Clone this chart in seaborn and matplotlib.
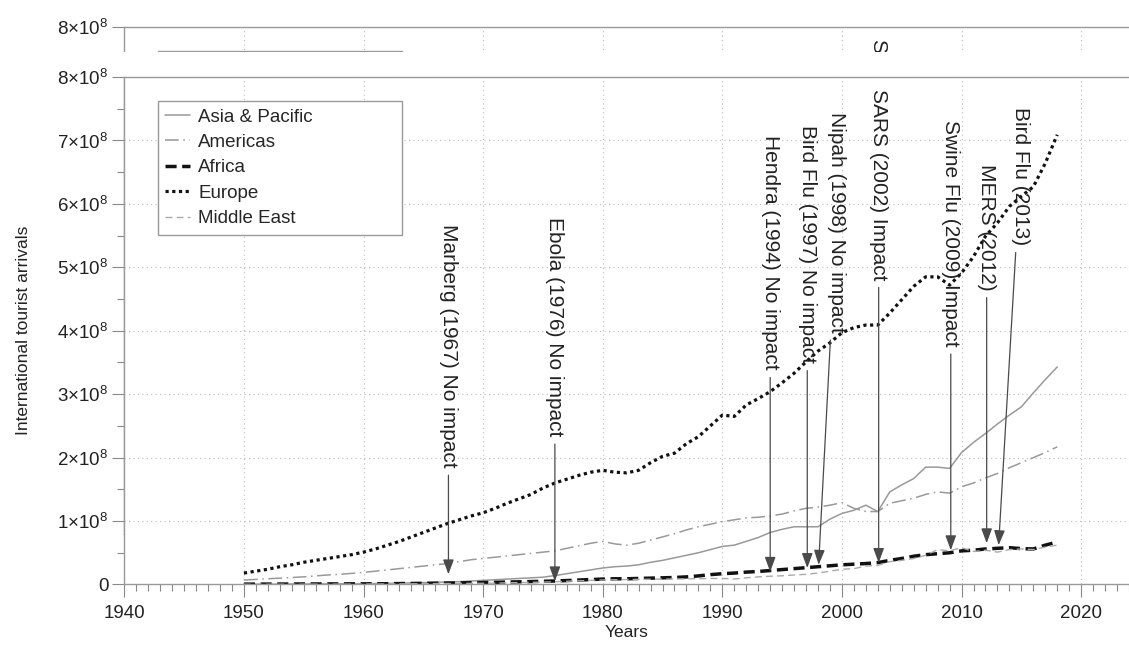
import seaborn as sns
import matplotlib.pyplot as plt
from matplotlib.patches import Rectangle
from matplotlib.ticker import MultipleLocator, FuncFormatter, NullLocator

years = list(range(1950, 2019))

# international tourist arrivals, millions
asia_pacific = [0.3, 0.3, 0.4, 0.5, 0.6, 0.7, 0.8, 0.9, 1.0, 1.1,
                1.2, 1.4, 1.7, 2.0, 2.5, 3.0, 3.5, 4.0, 4.5, 5.5,
                6.5, 7.5, 8.5, 9.5, 10.5, 11.5, 14, 17, 20, 23,
                26, 28, 29, 31, 35, 38, 42, 46, 50, 55,
                60, 62, 68, 74, 82, 87, 91, 91, 91, 103,
                112, 117, 125, 115, 146, 157, 167, 185, 185, 183,
                208, 224, 238, 253, 267, 280, 302, 323, 343]
americas = [7, 8, 9, 10, 11, 12, 13.5, 15, 16, 17.5,
            19, 21, 23, 25, 27, 29, 31, 33, 36, 39,
            41, 43, 45, 47, 49, 51, 53, 57, 61, 65,
            68, 64, 62, 65, 70, 75, 80, 86, 91, 95,
            99, 102, 105, 106, 108, 111, 116, 120, 122, 125,
            129, 120, 115, 115, 128, 132, 136, 142, 146, 144,
            154, 160, 168, 175, 184, 192, 200, 208, 217]
africa = [0.5, 0.6, 0.6, 0.7, 0.7, 0.8, 0.8, 0.9, 0.9, 1.0,
          1.0, 1.1, 1.2, 1.4, 1.6, 1.8, 2.0, 2.2, 2.5, 2.8,
          3.0, 3.4, 3.8, 4.2, 4.6, 5.0, 5.5, 6.2, 7.0, 7.8,
          8.5, 9.0, 9.0, 9.5, 10.0, 10.5, 11, 12, 13.5, 15.5,
          17, 18, 19.5, 20.5, 22, 23.5, 25, 26.5, 28, 29.5,
          31, 32, 33, 34.5, 38, 41, 44.5, 47, 48.5, 50,
          53, 54, 56, 57, 58, 56.5, 56, 62, 67]
europe = [18, 21, 24, 28, 31, 35, 38, 41, 44, 47,
          51, 56, 62, 68, 75, 82, 89, 96, 102, 108,
          113, 120, 128, 135, 142, 152, 160, 166, 172, 177,
          180, 177, 176, 180, 192, 202, 207, 222, 233, 250,
          267, 265, 283, 293, 304, 318, 333, 351, 368, 381,
          397, 405, 409, 409, 428, 449, 470, 485, 485, 472,
          491, 517, 549, 570, 596, 612, 627, 664, 709]
middle_east = [0.2, 0.22, 0.25, 0.28, 0.31, 0.35, 0.39, 0.43, 0.48, 0.54,
               0.6, 0.7, 0.8, 0.95, 1.1, 1.25, 1.4, 1.5, 1.6, 1.75,
               1.9, 2.2, 2.6, 3.0, 3.3, 3.7, 4.3, 5.0, 5.8, 6.5,
               7.1, 7.5, 7.8, 8.0, 8.3, 8.5, 8.7, 8.9, 9.2, 9.4,
               9.6, 8.5, 10.5, 12, 13, 13.7, 15, 16, 18, 21,
               24, 25, 29, 30, 36, 38, 41, 46, 55, 53,
               58, 52, 54, 51, 55, 56, 55, 59, 62]

regions = ["Asia & Pacific", "Americas", "Africa", "Europe", "Middle East"]
series = [asia_pacific, americas, africa, europe, middle_east]
styles = [
    dict(color="#999999", lw=1.1, linestyle="-"),
    dict(color="#999999", lw=1.1, linestyle=(0, (9, 3, 1, 3))),
    dict(color="#111111", lw=2.5, linestyle=(0, (3.2, 1.6))),
    dict(color="#111111", lw=2.3, linestyle=(0, (1, 1.1))),
    dict(color="#aaaaaa", lw=1.0, linestyle=(0, (5, 3))),
]

# outbreaks: label, year pointed at, value pointed at (millions)
outbreaks = ["Marberg (1967) No impact", "Ebola (1976) No impact",
             "Hendra (1994) No impact", "Bird Flu (1997) No impact",
             "Nipah (1998) No impact", "SARS (2002) Impact",
             "Swine Flu (2009) Impact", "MERS (2012)", "Bird Flu (2013)"]
outbreak_year = [1967.1, 1976.0, 1994.0, 1997.1, 1998.05, 2003.07, 2009.1, 2012.1, 2013.1]
outbreak_value = [16, 5, 20, 26, 31, 34, 54, 65, 62]
# where each label sits (year, bottom of label in millions)
label_x = [1967.1, 1976.0, 1994.0, 1997.1, 1999.55, 2003.07, 2009.1, 2012.1, 2014.9]
label_bottom = [184, 233, 338, 349, 397, 480, 375, 464, 535]

sns.set_theme(style="white")
plt.rcParams["font.family"] = ["Liberation Sans", "DejaVu Sans"]
plt.rcParams["mathtext.fontset"] = "custom"
plt.rcParams["mathtext.rm"] = "Liberation Sans"
plt.rcParams["mathtext.it"] = "Liberation Sans:italic"
plt.rcParams["mathtext.bf"] = "Liberation Sans:bold"


def sci(v, pos):
    if v == 0:
        return "0"
    return r"$%d{\times}10^{8}$" % round(v / 1e8)


def draw(axis):
    notes = []
    for name, vals, st in zip(regions, series, styles):
        sns.lineplot(x=years, y=[v * 1e6 for v in vals], ax=axis, label=name,
                     errorbar=None, **st)
    for name, xa, ya, xt, yt in zip(outbreaks, outbreak_year, outbreak_value,
                                    label_x, label_bottom):
        notes.append(axis.annotate(
            name, xy=(xa, ya * 1e6), xytext=(xt, yt * 1e6),
            rotation=270, ha="center", va="bottom", fontsize=15, color="#222222",
            arrowprops=dict(arrowstyle="-|>,head_length=0.6,head_width=0.22",
                            color="#4a4a4a", lw=0.9, shrinkA=3, shrinkB=0)))
    axis.set_xlim(1940, 2024)
    axis.set_ylim(0, 8e8)
    axis.xaxis.set_major_locator(MultipleLocator(10))
    axis.xaxis.set_minor_locator(MultipleLocator(1))
    axis.yaxis.set_major_locator(MultipleLocator(1e8))
    axis.yaxis.set_minor_locator(MultipleLocator(0.5e8))
    axis.yaxis.set_major_formatter(FuncFormatter(sci))
    axis.grid(True, which="major", color="#bbbbbb", linestyle=(0, (1, 3)), lw=0.8)
    axis.tick_params(which="both", direction="out", color="#888888", width=0.8,
                     labelsize=13.5, labelcolor="#222222")
    axis.tick_params(which="major", length=9)
    axis.tick_params(which="minor", length=5)
    axis.tick_params(axis="x", which="both", bottom=True, pad=6)
    axis.tick_params(axis="y", which="both", left=True, pad=2.5)
    for s in ["top", "left", "bottom"]:
        axis.spines[s].set_color("#999999")
        axis.spines[s].set_linewidth(1)
    axis.spines["right"].set_visible(False)
    axis.set_facecolor("white")
    leg = axis.legend(loc="upper left", bbox_to_anchor=(0.0335, 0.9527, 0.243, 0.0),
                      mode="expand", borderaxespad=0, frameon=True, fancybox=False,
                      edgecolor="#999999", framealpha=1, fontsize=13.5,
                      handlelength=1.3, handletextpad=0.45, labelspacing=0.44,
                      borderpad=0.4)
    leg.get_frame().set_linewidth(1)
    return leg, notes


fig = plt.figure(figsize=(11.29, 6.5), dpi=100)
ax_top = fig.add_axes([0.1101, 0.1777, 0.8899, 0.7807], zorder=0)
ax = fig.add_axes([0.1101, 0.1008, 0.8899, 0.7807], zorder=2)

# the doubled strip at the top: a copy of the plot shifted up, mostly hidden
top_leg, top_notes = draw(ax_top)
ax_top.set_yticks([8e8])
ax_top.yaxis.set_minor_locator(NullLocator())
ax_top.tick_params(axis="x", which="both", bottom=False, labelbottom=False)
ax_top.set_xlabel("")
ax_top.set_ylabel("")

draw(ax)
ax.set_xlabel("Years", fontsize=12.5, color="#222222", labelpad=2)
ax.set_ylabel("International tourist arrivals", fontsize=12.5, color="#222222", labelpad=19)

# white band between the doubled top strip and the plot
band_bottom = 1 - 76.5 / 650
band_top = 1 - 52 / 650
fig.patches.append(Rectangle((118 / 1129, band_bottom), 1, band_top - band_bottom,
                             transform=fig.transFigure, facecolor="white",
                             edgecolor="none", zorder=1))

# texts of the copy that end up fully hidden are switched off
fig.canvas.draw()
for t in top_leg.get_texts():
    t.set_visible(False)
for n in top_notes:
    bb = n.get_window_extent()
    if bb.y1 < band_top * fig.bbox.height:
        n.set_visible(False)

fig.savefig("out.png", dpi=100)
